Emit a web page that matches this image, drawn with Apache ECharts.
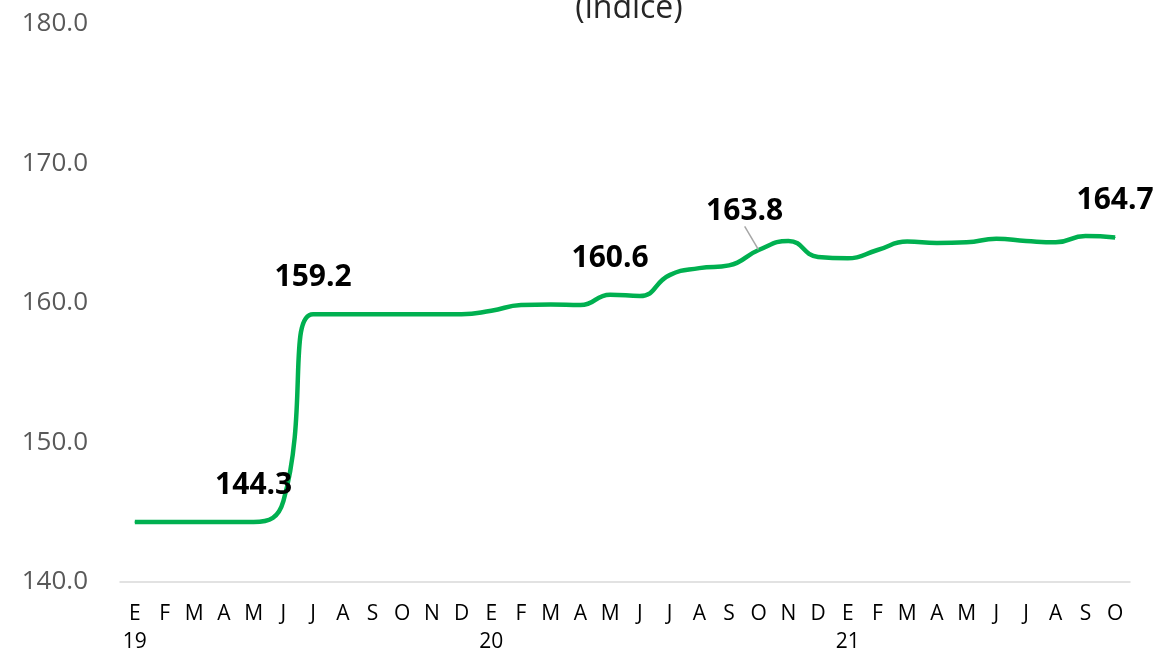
<!DOCTYPE html>
<html>
<head>
<meta charset="utf-8">
<script src="https://cdn.jsdelivr.net/npm/echarts@6/dist/echarts.min.js"></script>
<style>
  html, body { margin: 0; padding: 0; background: #fff; }
  #main { width: 1158px; height: 650px; }
</style>
</head>
<body>
<div id="main"></div>
<script type="text/javascript">
    // meses (E = enero ... D = diciembre), ene-2019 a oct-2021
    var meses = ['E','F','M','A','M','J','J','A','S','O','N','D',
                 'E','F','M','A','M','J','J','A','S','O','N','D',
                 'E','F','M','A','M','J','J','A','S','O'];
    var anios = {0: '19', 12: '20', 24: '21'};
    // índice mensual
    var indice = [144.3, 144.3, 144.3, 144.3, 144.3, 145.8, 159.2, 159.2, 159.2, 159.2, 159.2, 159.2,
                  159.45, 159.85, 159.9, 159.85, 160.6, 160.5, 162.0, 162.5, 162.7, 163.8, 164.45, 163.3,
                  163.2, 163.8, 164.4, 164.3, 164.35, 164.6, 164.45, 164.35, 164.8, 164.7];
    // puntos con etiqueta (el de oct-20 lleva línea guía)
    var etiquetas = [4, 6, 16, 21, 33];
    var conGuia = 21;
    var yTicks = { min: 140, max: 180, interval: 10 };

    var categorias = meses.map(function (m, i) {
        return anios[i] ? m + '\n' + anios[i] : m;
    });

    var datos = indice.map(function (v, i) {
        if (etiquetas.indexOf(i) < 0) return v;
        return {
            value: v,
            label: { show: true },
            labelLine: { show: i === conGuia }
        };
    });

    var myChart = echarts.init(document.getElementById('main'));

    var option = {
        backgroundColor: '#fff',
        animation: false,
        title: {
            text: '(índice)',
            left: 624,
            textAlign: 'center',
            top: -12,
            textStyle: { fontFamily: 'Open Sans', fontWeight: 'normal', fontSize: 32, color: '#262626' }
        },
        grid: { left: 120, right: 28, top: 24, bottom: 68, outerBoundsMode: 'none', containLabel: false },
        xAxis: {
            type: 'category',
            data: categorias,
            boundaryGap: true,
            axisLine: { lineStyle: { color: '#D9D9D9', width: 1.5 } },
            axisTick: { show: false },
            axisLabel: {
                interval: 0,
                margin: 18,
                fontFamily: 'Open Sans',
                fontSize: 21,
                lineHeight: 28,
                color: '#000',
                align: 'center'
            }
        },
        yAxis: {
            type: 'value',
            min: yTicks.min,
            max: yTicks.max,
            interval: yTicks.interval,
            axisLine: { show: false },
            axisTick: { show: false },
            splitLine: { show: false },
            axisLabel: {
                margin: 32,
                fontFamily: 'Open Sans',
                fontSize: 26,
                color: '#595959',
                formatter: function (v) { return v.toFixed(1); }
            }
        },
        series: [{
            type: 'line',
            data: datos,
            smooth: 0.5,
            symbol: 'circle',
            symbolSize: 1,
            showSymbol: true,
            itemStyle: { color: '#00B050' },
            lineStyle: { color: '#00B050', width: 4.5 },
            label: {
                show: false,
                position: 'top',
                distance: 21,
                fontFamily: 'Open Sans',
                fontWeight: 'bold',
                fontSize: 30,
                color: '#000',
                formatter: function (p) { return p.value.toFixed(1); }
            },
            labelLine: { show: false, lineStyle: { color: '#A6A6A6', width: 1.5 } },
            labelLayout: function (p) {
                if (p.dataIndex === conGuia) return { dx: -14, dy: -2 };
                return {};
            }
        }]
    };

    myChart.setOption(option);
</script>
</body>
</html>
